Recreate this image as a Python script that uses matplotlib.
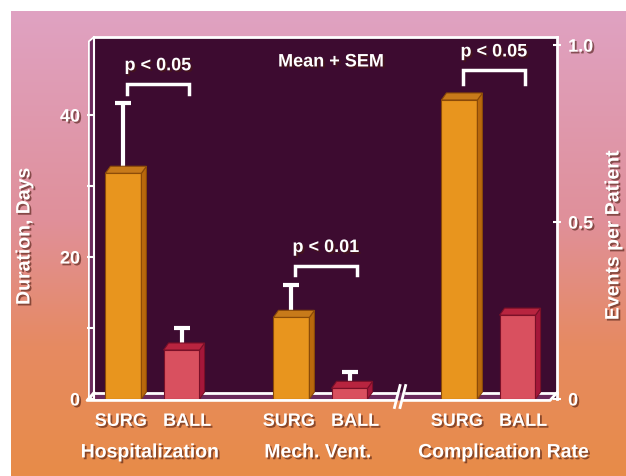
import numpy as np
import matplotlib
matplotlib.use("Agg")
import matplotlib.pyplot as plt
from matplotlib.patches import Polygon
from matplotlib.colors import to_rgb
import matplotlib.patheffects as pe

# data
groups = ["Hospitalization", "Mech. Vent.", "Complication Rate"]
arms = ["SURG", "BALL"]
days_mean = [[31.8, 6.9], [11.5, 1.5]]      # hospitalization, mech. vent. (days)
days_sem = [[9.9, 3.1], [4.6, 2.3]]
events_mean = [0.845, 0.237]                # complications per patient
p_labels = ["p < 0.05", "p < 0.01", "p < 0.05"]
left_ticks = [0, 20, 40]
left_minor = [10, 30]
right_ticks = [0, 0.5, 1.0]
right_ticklabels = ["0", "0.5", "1.0"]

plt.rcParams['font.family'] = ['Liberation Sans', 'DejaVu Sans']
plt.rcParams['font.weight'] = 'bold'

shadow = [pe.withSimplePatchShadow(offset=(1.3, -1.3), shadow_rgbFace='#4a1a10', alpha=0.6)]

fig = plt.figure(figsize=(6.26, 4.76), dpi=100, facecolor='white')

# gradient background (pink -> orange), white margin top/left
bg = fig.add_axes([11/626, 0, 615/626, 465/476], zorder=-5)
stops = [to_rgb('#dfa2c2'), to_rgb('#e0909a'), to_rgb('#e68a62'), to_rgb('#e88c48')]
pos = [0.0, 0.45, 0.72, 1.0]
t = np.linspace(0, 1, 256)
grad = np.stack([np.interp(t, pos, [c[k] for c in stops]) for k in range(3)], axis=-1)
bg.imshow(grad[:, None, :], aspect='auto', extent=[0, 1, 0, 1])
bg.axis('off')

ax = fig.add_axes([94/626, 77/476, 463/626, 362/476])
ax.set_facecolor('#3d0b30')
ax.set_xlim(-0.348, 2.408)
ax.set_ylim(0, 51.0)
ax2 = ax.twinx()
ax2.set_ylim(0, 1.023)

width = 0.214
off = 0.173
dx = 0.03
dy_left = 0.99
dy_right = 0.0198
colors = [('#e8951e', '#b8680c', '#c77a1a', '#8a4a08'),
          ('#d9505f', '#a5173a', '#b8243f', '#7a1028')]


def bar3d(a, x, h, dy, col):
    front, side, top, edge = col
    a.bar(x, h, width, color=front, edgecolor=edge, linewidth=0.8, zorder=3)
    r = x + width / 2
    l = x - width / 2
    a.add_patch(Polygon([(r, 0), (r + dx, dy), (r + dx, h + dy), (r, h)],
                        facecolor=side, edgecolor=edge, linewidth=0.8, zorder=3))
    a.add_patch(Polygon([(l, h), (l + dx, h + dy), (r + dx, h + dy), (r, h)],
                        facecolor=top, edgecolor=edge, linewidth=0.8, zorder=3))


def bracket(a, x1, x2, base, hgt, label):
    a.plot([x1, x1, x2, x2], [base, base + hgt, base + hgt, base], color='white',
           lw=2.5, solid_joinstyle='miter', zorder=4)
    a.annotate(label, ((x1 + x2) / 2, base + hgt), xytext=(0, 13), textcoords='offset points',
               ha='center', va='center', color='white', fontsize=13, fontweight='bold',
               path_effects=shadow, zorder=5)


xs = []
for g in range(3):
    for i in range(2):
        xs.append(g + (i * 2 - 1) * off)

# day-based groups on the left axis
for g in range(2):
    tops = []
    for i in range(2):
        x = g + (i * 2 - 1) * off
        h = days_mean[g][i]
        s = days_sem[g][i]
        ax.errorbar(x, h, yerr=[[0], [s]], fmt='none', ecolor='white', elinewidth=3,
                    capsize=6, capthick=3, zorder=2)
        bar3d(ax, x, h, dy_left, colors[i])
        tops.append(max(h + s, h + dy_left))
    bracket(ax, g - off + 0.02, g + off + 0.045, tops[0] + 1.3, 1.4, p_labels[g])

# complication rate on the right axis
for i in range(2):
    x = 2 + (i * 2 - 1) * off
    bar3d(ax2, x, events_mean[i], dy_right, colors[i])
bracket(ax2, 2 - off + 0.02, 2 + off + 0.045, events_mean[0] + dy_right + 0.025, 0.04, p_labels[2])

ax.text(0.512, 0.931, "Mean + SEM", transform=ax.transAxes, ha='center', va='center',
        color='white', fontsize=13, fontweight='bold', path_effects=shadow)

# floor with axis break
yf, yb = -0.2, 0.9
ytr = ax.get_yaxis_transform()
ax.add_patch(Polygon([(-0.015, yf), (0.985, yf), (1.0, yb), (0.0, yb)], transform=ytr,
                     facecolor='#6a2a5c', edgecolor='none', clip_on=False, zorder=1))
wl = dict(color='white', lw=2, transform=ytr, clip_on=False, zorder=2)
ax.plot([0.0, -0.015, 0.652], [yb, yf, yf], **wl)
ax.plot([0.670, 0.985, 1.0], [yf, yf, yb], **wl)
ax.plot([0.0, 0.655], [yb, yb], **wl)
ax.plot([0.673, 1.0], [yb, yb], **wl)
for bx in [0.655, 0.667]:
    ax.plot([bx - 0.006, bx + 0.006], [yf - 1.0, yb + 1.0], **wl)

# left wall strip
ax.add_patch(Polygon([(-0.011, -0.004), (-0.011, 0.988), (0.0, 1.0), (0.0, 0.018)],
                     transform=ax.transAxes, facecolor='#6a2a5c', edgecolor='white',
                     linewidth=1.3, clip_on=False, zorder=1))

for a in (ax, ax2):
    a.spines['bottom'].set_visible(False)
ax.spines['right'].set_visible(False)
ax2.spines['left'].set_visible(False)
ax2.spines['top'].set_visible(False)
ax.spines['left'].set_color('white')
ax.spines['left'].set_linewidth(1.5)
ax.spines['top'].set_color('white')
ax.spines['top'].set_linewidth(2)
ax2.spines['right'].set_color('white')
ax2.spines['right'].set_linewidth(2)

ax.set_yticks(left_ticks)
ax.set_yticks(left_minor, minor=True)
ax.tick_params(axis='y', which='both', colors='white', length=5, width=1.5, pad=5,
               labelsize=13)
ax2.set_yticks(right_ticks)
ax2.set_yticklabels(right_ticklabels)
ax2.tick_params(axis='y', colors='white', direction='inout', length=6, width=1.5, pad=5,
                labelsize=13)
for lbl in ax.get_yticklabels() + ax2.get_yticklabels():
    lbl.set_fontweight('bold')
    lbl.set_path_effects(shadow)

# arm labels sit slightly apart from the bar centres on the slide
label_x = [x + (-0.015 if k % 2 == 0 else 0.033) for k, x in enumerate(xs)]
ax.set_xticks(label_x)
ax.set_xticklabels(arms * 3)
ax.tick_params(axis='x', length=0, pad=10, labelsize=13, colors='white')
for lbl in ax.get_xticklabels():
    lbl.set_fontweight('bold')
    lbl.set_path_effects(shadow)

xtr = ax.get_xaxis_transform()
for g, name in enumerate(groups):
    shift = 0.09 if g == 2 else -0.015
    ax.text(g + shift, -0.149, name, transform=xtr, ha='center', va='center', color='white',
            fontsize=14, fontweight='bold', path_effects=shadow)

fig.text(25/626, 0.504, "Duration, Days", rotation=90, ha='center', va='center',
         color='white', fontsize=14, fontweight='bold', path_effects=shadow)
fig.text(614/626, 0.506, "Events per Patient", rotation=90, ha='center', va='center',
         color='white', fontsize=14, fontweight='bold', path_effects=shadow)

fig.savefig("out.png", dpi=100, facecolor='white')
